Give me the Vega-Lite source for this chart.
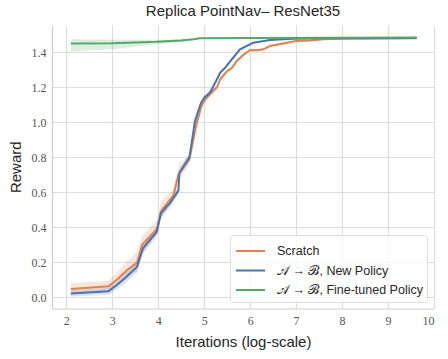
{
  "$schema": "https://vega.github.io/schema/vega-lite/v6.json",
  "autosize": {"type": "none"},
  "width": 382,
  "height": 283.5,
  "padding": {"left": 52, "top": 25, "right": 14, "bottom": 50.5},
  "background": "white",
  "title": {"text": "Replica PointNav– ResNet35", "font": "Liberation Sans", "fontSize": 15, "fontWeight": "normal", "color": "#262626", "offset": 6},
  "data": {"values": [
    {"series": "Scratch", "x": 2.1, "y": 0.048, "lo": 0.02, "hi": 0.08},
    {"series": "Scratch", "x": 2.92, "y": 0.063, "lo": 0.035, "hi": 0.095},
    {"series": "Scratch", "x": 3.1, "y": 0.1, "lo": 0.065, "hi": 0.14},
    {"series": "Scratch", "x": 3.3, "y": 0.15, "lo": 0.11, "hi": 0.2},
    {"series": "Scratch", "x": 3.54, "y": 0.198, "lo": 0.15, "hi": 0.26},
    {"series": "Scratch", "x": 3.65, "y": 0.3, "lo": 0.25, "hi": 0.35},
    {"series": "Scratch", "x": 3.97, "y": 0.389, "lo": 0.36, "hi": 0.44},
    {"series": "Scratch", "x": 4.06, "y": 0.49, "lo": 0.45, "hi": 0.55},
    {"series": "Scratch", "x": 4.26, "y": 0.56, "lo": 0.53, "hi": 0.6},
    {"series": "Scratch", "x": 4.33, "y": 0.58, "lo": 0.55, "hi": 0.62},
    {"series": "Scratch", "x": 4.44, "y": 0.7, "lo": 0.66, "hi": 0.75},
    {"series": "Scratch", "x": 4.68, "y": 0.79, "lo": 0.76, "hi": 0.82},
    {"series": "Scratch", "x": 4.84, "y": 0.998, "lo": 0.97, "hi": 1.02},
    {"series": "Scratch", "x": 4.95, "y": 1.1, "lo": 1.08, "hi": 1.12},
    {"series": "Scratch", "x": 5.05, "y": 1.14, "lo": 1.12, "hi": 1.16},
    {"series": "Scratch", "x": 5.2, "y": 1.18, "lo": 1.165, "hi": 1.195},
    {"series": "Scratch", "x": 5.28, "y": 1.2, "lo": 1.185, "hi": 1.215},
    {"series": "Scratch", "x": 5.35, "y": 1.246, "lo": 1.23, "hi": 1.26},
    {"series": "Scratch", "x": 5.49, "y": 1.29, "lo": 1.28, "hi": 1.3},
    {"series": "Scratch", "x": 5.6, "y": 1.31, "lo": 1.3, "hi": 1.32},
    {"series": "Scratch", "x": 5.71, "y": 1.35, "lo": 1.34, "hi": 1.36},
    {"series": "Scratch", "x": 5.85, "y": 1.385, "lo": 1.375, "hi": 1.395},
    {"series": "Scratch", "x": 6.0, "y": 1.413, "lo": 1.405, "hi": 1.42},
    {"series": "Scratch", "x": 6.15, "y": 1.412, "lo": 1.405, "hi": 1.42},
    {"series": "Scratch", "x": 6.29, "y": 1.417, "lo": 1.41, "hi": 1.425},
    {"series": "Scratch", "x": 6.43, "y": 1.436, "lo": 1.43, "hi": 1.443},
    {"series": "Scratch", "x": 6.72, "y": 1.45, "lo": 1.445, "hi": 1.456},
    {"series": "Scratch", "x": 7.0, "y": 1.465, "lo": 1.46, "hi": 1.47},
    {"series": "Scratch", "x": 7.3, "y": 1.468, "lo": 1.463, "hi": 1.473},
    {"series": "Scratch", "x": 7.59, "y": 1.474, "lo": 1.47, "hi": 1.478},
    {"series": "Scratch", "x": 8.0, "y": 1.478, "lo": 1.474, "hi": 1.482},
    {"series": "Scratch", "x": 8.8, "y": 1.479, "lo": 1.475, "hi": 1.483},
    {"series": "Scratch", "x": 9.62, "y": 1.48, "lo": 1.476, "hi": 1.484},
    {"series": "New Policy", "x": 2.1, "y": 0.022, "lo": 0.005, "hi": 0.04},
    {"series": "New Policy", "x": 2.92, "y": 0.035, "lo": 0.015, "hi": 0.055},
    {"series": "New Policy", "x": 3.1, "y": 0.07, "lo": 0.045, "hi": 0.095},
    {"series": "New Policy", "x": 3.3, "y": 0.115, "lo": 0.085, "hi": 0.145},
    {"series": "New Policy", "x": 3.54, "y": 0.175, "lo": 0.14, "hi": 0.21},
    {"series": "New Policy", "x": 3.67, "y": 0.28, "lo": 0.25, "hi": 0.31},
    {"series": "New Policy", "x": 3.97, "y": 0.375, "lo": 0.345, "hi": 0.405},
    {"series": "New Policy", "x": 4.06, "y": 0.48, "lo": 0.455, "hi": 0.505},
    {"series": "New Policy", "x": 4.26, "y": 0.54, "lo": 0.515, "hi": 0.565},
    {"series": "New Policy", "x": 4.44, "y": 0.61, "lo": 0.59, "hi": 0.63},
    {"series": "New Policy", "x": 4.46, "y": 0.712, "lo": 0.69, "hi": 0.735},
    {"series": "New Policy", "x": 4.68, "y": 0.8, "lo": 0.78, "hi": 0.82},
    {"series": "New Policy", "x": 4.8, "y": 1.007, "lo": 0.99, "hi": 1.025},
    {"series": "New Policy", "x": 4.93, "y": 1.11, "lo": 1.095, "hi": 1.125},
    {"series": "New Policy", "x": 5.0, "y": 1.14, "lo": 1.125, "hi": 1.155},
    {"series": "New Policy", "x": 5.13, "y": 1.17, "lo": 1.158, "hi": 1.182},
    {"series": "New Policy", "x": 5.26, "y": 1.236, "lo": 1.225, "hi": 1.247},
    {"series": "New Policy", "x": 5.35, "y": 1.284, "lo": 1.275, "hi": 1.293},
    {"series": "New Policy", "x": 5.45, "y": 1.31, "lo": 1.302, "hi": 1.318},
    {"series": "New Policy", "x": 5.57, "y": 1.35, "lo": 1.343, "hi": 1.357},
    {"series": "New Policy", "x": 5.78, "y": 1.417, "lo": 1.411, "hi": 1.423},
    {"series": "New Policy", "x": 6.07, "y": 1.455, "lo": 1.45, "hi": 1.46},
    {"series": "New Policy", "x": 6.43, "y": 1.47, "lo": 1.466, "hi": 1.474},
    {"series": "New Policy", "x": 6.93, "y": 1.478, "lo": 1.474, "hi": 1.482},
    {"series": "New Policy", "x": 7.5, "y": 1.48, "lo": 1.476, "hi": 1.484},
    {"series": "New Policy", "x": 9.62, "y": 1.482, "lo": 1.478, "hi": 1.486},
    {"series": "Fine-tuned Policy", "x": 2.1, "y": 1.45, "lo": 1.404, "hi": 1.474},
    {"series": "Fine-tuned Policy", "x": 3.0, "y": 1.452, "lo": 1.418, "hi": 1.472},
    {"series": "Fine-tuned Policy", "x": 3.97, "y": 1.46, "lo": 1.446, "hi": 1.472},
    {"series": "Fine-tuned Policy", "x": 4.5, "y": 1.468, "lo": 1.46, "hi": 1.475},
    {"series": "Fine-tuned Policy", "x": 4.77, "y": 1.474, "lo": 1.469, "hi": 1.479},
    {"series": "Fine-tuned Policy", "x": 4.9, "y": 1.48, "lo": 1.476, "hi": 1.484},
    {"series": "Fine-tuned Policy", "x": 6.0, "y": 1.482, "lo": 1.479, "hi": 1.485},
    {"series": "Fine-tuned Policy", "x": 9.62, "y": 1.484, "lo": 1.481, "hi": 1.487}
  ]},
  "encoding": {
    "x": {"field": "x", "type": "quantitative", "scale": {"domain": [1.69, 10.0], "nice": false, "zero": false},
      "axis": {"title": "Iterations (log-scale)", "values": [2,3,4,5,6,7,8,9,10], "format": "d"}},
    "color": {"field": "series", "type": "nominal",
      "scale": {"domain": ["Scratch", "New Policy", "Fine-tuned Policy"], "range": ["#DD8452", "#4C72B0", "#55A868"]},
      "legend": {"title": null, "orient": "bottom-right", "offset": 7, "symbolType": "M-1,0H1.9",
        "labelExpr": "datum.label == 'Scratch' ? 'Scratch' : ('𝒜 → ℬ, ' + datum.label)"}}
  },
  "layer": [
    {
      "mark": {"type": "area", "opacity": 0.2},
      "encoding": {
        "y": {"field": "lo", "type": "quantitative", "scale": {"domain": [-0.064, 1.556], "nice": false, "zero": false},
          "axis": {"title": "Reward", "values": [0,0.2,0.4,0.6,0.8,1.0,1.2,1.4], "format": ".1f"}},
        "y2": {"field": "hi"}
      }
    },
    {
      "mark": {"type": "line", "strokeWidth": 2},
      "encoding": {
        "y": {"field": "y", "type": "quantitative"}
      }
    }
  ],
  "config": {
    "view": {"stroke": null},
    "axis": {
      "domainColor": "#cccccc", "domainWidth": 1.2,
      "gridColor": "#dddddd", "gridWidth": 1.2,
      "ticks": false,
      "labelFont": "Liberation Serif", "labelFontSize": 12, "labelColor": "#555555",
      "titleFont": "Liberation Sans", "titleFontSize": 15, "titleFontWeight": "normal", "titleColor": "#262626"
    },
    "axisX": {"labelPadding": 7, "titlePadding": 8},
    "axisY": {"labelPadding": 6, "titlePadding": 8},
    "legend": {
      "labelFont": "Liberation Sans", "labelFontSize": 12.5, "labelColor": "#262626",
      "symbolSize": 400, "symbolStrokeWidth": 2, "symbolOpacity": 1,
      "labelOffset": 20, "rowPadding": 1.5, "padding": 5,
      "strokeColor": "#dddddd", "fillColor": "rgba(255,255,255,0.8)", "cornerRadius": 3
    }
  }
}
